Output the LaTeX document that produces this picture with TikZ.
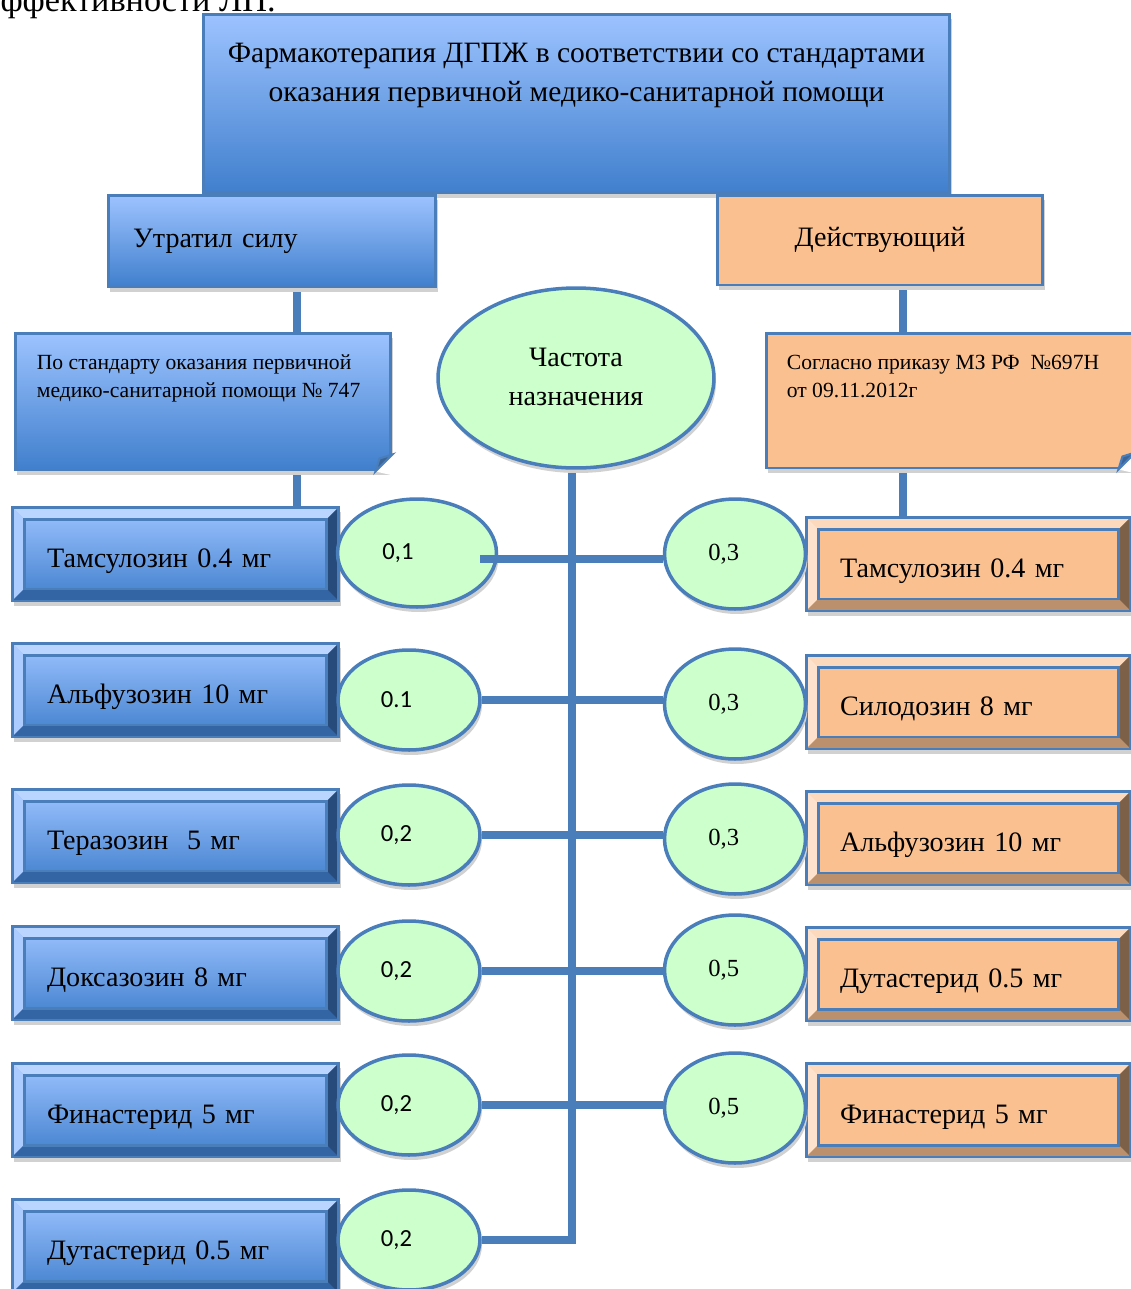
\documentclass[tikz,border=0pt]{standalone}
\usepackage{fontspec}
\setmainfont{Liberation Serif}
\newfontfamily\calfont{Carlito}
\usetikzlibrary{shapes.geometric,shadows,positioning,backgrounds}

\definecolor{edge}{RGB}{74,126,187}
\definecolor{bluetop}{RGB}{157,195,255}
\definecolor{bluebot}{RGB}{64,127,205}
\definecolor{peach}{RGB}{250,192,144}
\definecolor{mint}{RGB}{204,255,204}

\newcommand\pagefont{\fontsize{19.5}{23}\selectfont}
\newcommand\boxfont{\fontsize{16}{22.7}\selectfont}
\newcommand\headfont{\fontsize{16.8}{22.5}\selectfont}
\newcommand\notefont{\fontsize{12.3}{15.9}\selectfont}
\newcommand\valfont{\fontsize{14}{16}\selectfont}

\tikzset{
  shadowed/.style={drop shadow={shadow xshift=0.04cm, shadow yshift=-0.1cm, fill=black!18, opacity=1}},
  box/.style={rectangle, draw=edge, line width=1.7pt, inner sep=0pt, shadowed},
  bluebox/.style={box, top color=bluetop, bottom color=bluebot},
  peachbox/.style={box, fill=peach},
  bevel/.style n args={4}{path picture={
    \def\bv{0.24cm}
    \path (path picture bounding box.north west) coordinate (pnw)
          (path picture bounding box.north east) coordinate (pne)
          (path picture bounding box.south west) coordinate (psw)
          (path picture bounding box.south east) coordinate (pse);
    \fill[#1] (pnw) -- (pne) -- ([shift={(-\bv,-\bv)}]pne) -- ([shift={(\bv,-\bv)}]pnw) -- cycle;
    \fill[#2] (pnw) -- ([shift={(\bv,-\bv)}]pnw) -- ([shift={(\bv,\bv)}]psw) -- (psw) -- cycle;
    \fill[#3] (psw) -- ([shift={(\bv,\bv)}]psw) -- ([shift={(-\bv,\bv)}]pse) -- (pse) -- cycle;
    \fill[#4] (pse) -- ([shift={(-\bv,\bv)}]pse) -- ([shift={(-\bv,-\bv)}]pne) -- (pne) -- cycle;
    \draw[edge, line width=1.7pt] ([shift={(\bv,-\bv)}]pnw) rectangle ([shift={(-\bv,\bv)}]pse);}},
  drug/.style={minimum height=1.88cm, text width=5.14cm, align=left, font=\boxfont, text height=0.6cm, text depth=0.08cm},
  leftdrug/.style={bluebox, drug, minimum width=6.54cm,
    bevel={bluetop!70!white}{bluetop!85!white}{bluebot!80!black}{bluebot!60!black}},
  rightdrug/.style={peachbox, drug, minimum width=6.5cm,
    bevel={peach!60!white}{peach!45!white}{peach!75!black}{peach!50!black}},
  freqnode/.style={ellipse, draw=edge, line width=2pt, fill=mint, shadowed, inner sep=0pt},
  valL/.style={freqnode, minimum width=2.84cm, minimum height=2cm, font=\calfont\valfont, execute at end node=\hspace{0.5cm}},
  valR/.style={freqnode, minimum width=2.82cm, minimum height=2.2cm, font=\valfont, execute at end node=\hspace{0.45cm}},
  link/.style={draw=edge, line width=4.6pt, preaction={draw=black!15, transform canvas={yshift=-0.07cm}}},
  fold/.style={draw=edge, line width=1.2pt}
}

\begin{document}
\begin{tikzpicture}[x=0.02cm, y=-0.02cm]
  \useasboundingbox (0,0) rectangle (1131,1289);
  \clip (0,0) rectangle (1131,1289);

  \node[anchor=base east, inner sep=0pt, font=\pagefont] (pagetext) at (276,11) {эффективности ЛП.};

  % header
  \node[bluebox, minimum width=14.94cm, minimum height=3.58cm] (title) at (576.5,103.5) {};
  \node[anchor=north, align=center, font=\headfont] (titletext) at ([yshift=-0.48cm]title.north)
    {Фармакотерапия ДГПЖ в соответствии со стандартами\\оказания первичной медико-санитарной помощи};

  \node[bluebox, minimum width=6.56cm, minimum height=1.84cm, text width=5.56cm, align=left, font=\boxfont] (lost) at (272,241) {Утратил силу};
  \node[peachbox, minimum width=6.52cm, minimum height=1.8cm, font=\boxfont] (act) at (880,240) {Действующий};

  \node[bluebox, minimum width=7.52cm, minimum height=2.74cm] (std) at (203,401.5) {};
  \node[anchor=north west, align=left, inner sep=0pt, font=\notefont] (stdtext) at ([shift={(0.46cm,-0.46cm)}]std.north west)
    {По стандарту оказания первичной\\медико-санитарной помощи № 747};
  \node[peachbox, minimum width=7.36cm, minimum height=2.7cm] (order) at (950,400.5) {};
  \node[anchor=north west, align=left, inner sep=0pt, font=\notefont] (ordertext) at ([shift={(0.44cm,-0.46cm)}]order.north west)
    {Согласно приказу МЗ РФ\ \ №697Н\\от 09.11.2012г};

  % folded corners
  \foreach \name in {std, order} {
    \fill[white] ([xshift=-0.34cm]\name.south east) -- ([shift={(0.1cm,-0.1cm)}]\name.south east) -- ([yshift=0.34cm]\name.south east) -- cycle;
    \filldraw[fold, fill=edge!80!black] ([xshift=-0.34cm]\name.south east) -- ([shift={(-0.26cm,0.26cm)}]\name.south east) -- ([yshift=0.34cm]\name.south east) -- cycle;
  }

  \node[freqnode, minimum width=5.52cm, minimum height=3.6cm, font=\boxfont] (freq) at (576,378)
    {\raisebox{0.14cm}{\begin{tabular}{@{}c@{}}Частота\\назначения\end{tabular}}};

  % preparations, left column
  \node[leftdrug] (l1) at (175.5,554) {Тамсулозин 0.4 мг};
  \node[valL, minimum width=3.18cm, minimum height=2.16cm, execute at end node=\hspace{0.26cm}] (a1) at (417,553) {0,1};
  \foreach \yb/\ye/\i/\val/\txt in {690/700/2/0.1/Альфузозин 10 мг,
      836/835/3/{0,2}/Теразозин~~5 мг, 973/971/4/{0,2}/Доксазозин 8 мг,
      1110/1105/5/{0,2}/Финастерид 5 мг, 1246/1240/6/{0,2}/Дутастерид 0.5 мг} {
    \node[leftdrug] (l\i) at (175.5,\yb) {\txt};
    \node[valL] (a\i) at (409,\ye) {\val};
  }

  % preparations, right column
  \foreach \yb/\ye/\i/\val/\txt in {564/554/1/{0,3}/Тамсулозин 0.4 мг, 702/704/2/{0,3}/Силодозин 8 мг,
      838/839/3/{0,3}/Альфузозин 10 мг, 974/970/4/{0,5}/Дутастерид 0.5 мг,
      1110/1108/5/{0,5}/Финастерид 5 мг} {
    \node[rightdrug] (r\i) at (968.5,\yb) {\txt};
    \node[valR] (b\i) at (735,\ye) {\val};
  }

  \begin{scope}[on background layer]
    \coordinate (leftdrop) at ([xshift=0.5cm]lost.south);
    \coordinate (rightdrop) at ([xshift=0.46cm]act.south);
    \draw[link] (leftdrop) -- (leftdrop |- std.north);
    \draw[link] (leftdrop |- std.south) -- (leftdrop |- l1.north);
    \draw[link] (rightdrop) -- (rightdrop |- order.north);
    \draw[link] (rightdrop |- order.south) -- (rightdrop |- r1.north);
    \draw[link] ([xshift=-0.08cm]freq.south) |- (a6.east);
    \foreach \i in {2,...,5}
      \draw[link] (a\i.east) -- (a\i.east -| b\i.west);
  \end{scope}
  \draw[link] ([shift={(-0.36cm,-0.12cm)}]a1.east) -- ([yshift=-0.12cm]a1.east -| b1.west);
\end{tikzpicture}
\end{document}
